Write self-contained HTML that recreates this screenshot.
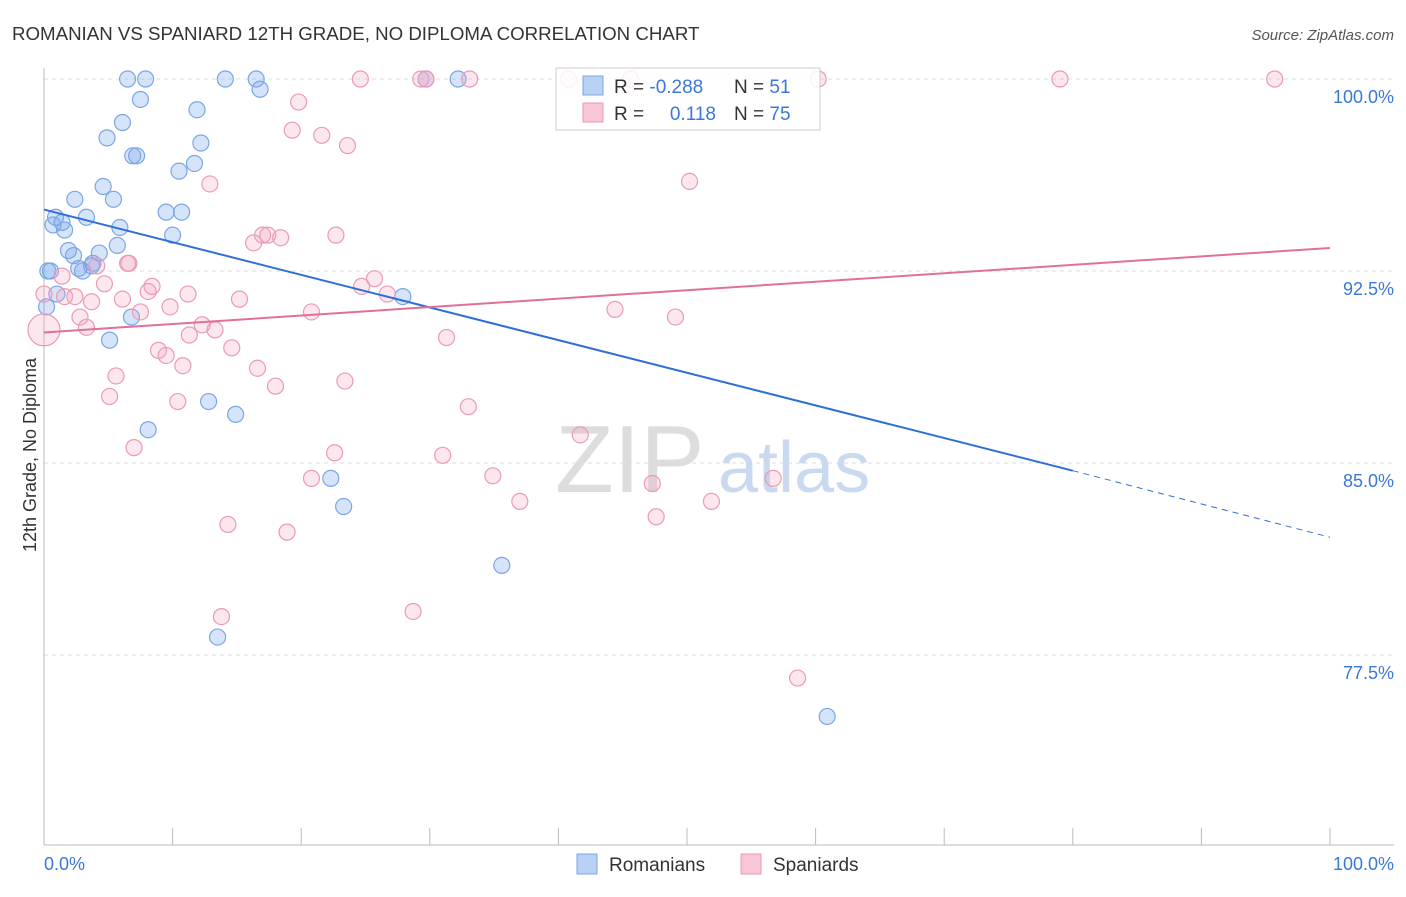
<!DOCTYPE html>
<html><head><meta charset="utf-8"><style>
body{margin:0;background:#fff;font-family:"Liberation Sans",sans-serif}
svg text{font-family:"Liberation Sans",sans-serif}
</style></head><body>
<svg width="1406" height="892" viewBox="0 0 1406 892">
<text x="12" y="40" font-size="18.7" fill="#333">ROMANIAN VS SPANIARD 12TH GRADE, NO DIPLOMA CORRELATION CHART</text>
<text x="1394" y="40" font-size="15" fill="#555" text-anchor="end" font-style="italic">Source: ZipAtlas.com</text>
<text x="36" y="455" font-size="18" fill="#333" text-anchor="middle" transform="rotate(-90 36 455)">12th Grade, No Diploma</text>
<g id="grid"></g>
<g id="watermark">
<text x="555" y="492" font-size="96" fill="#ddd" font-family="Liberation Serif">ZIP</text>
<text x="718" y="492" font-size="72" fill="#c9daf0">atlas</text>
</g>
<g id="pts"></g>
<g id="lines"></g>
<g>
<rect x="556" y="68" width="264" height="62" fill="#fff" fill-opacity="0.85" stroke="#ccc"/>
<rect x="583" y="76" width="20" height="19" fill="#b8d0f3" stroke="#7aa6e6"/>
<rect x="583" y="103" width="20" height="19" fill="#f8c6d6" stroke="#ea9ab6"/>
<text x="614" y="93" font-size="19" fill="#333">R = <tspan fill="#3a78d8">-0.288</tspan></text>
<text x="734" y="93" font-size="19" fill="#333">N = <tspan fill="#3a78d8"> 51</tspan></text>
<text x="614" y="120" font-size="19" fill="#333">R = </text>
<text x="716" y="120" font-size="19" fill="#3a78d8" text-anchor="end">0.118</text>
<text x="734" y="120" font-size="19" fill="#333">N = <tspan fill="#3a78d8">75</tspan></text>
</g>
<g>
<rect x="577" y="854" width="20" height="20" fill="#b8d0f3" stroke="#7aa6e6"/>
<text x="609" y="871" font-size="19" fill="#333">Romanians</text>
<rect x="741" y="854" width="20" height="20" fill="#f8c6d6" stroke="#ea9ab6"/>
<text x="773" y="871" font-size="19" fill="#333">Spaniards</text>
</g>
</svg>
<script>
const yTicks=[100,92.5,85,77.5];
const yTickLabels=["100.0%","92.5%","85.0%","77.5%"];
const xTickLabels=["0.0%","100.0%"];
const blueX=[6.5,7.9,14.1,16.5,29.7,32.2,7.5,16.8,11.9,6.1,4.9,12.2,6.9,7.2,11.7,10.5,4.6,2.4,5.4,9.5,10.7,3.3,0.9,1.4,0.7,1.6,5.9,10.0,5.7,1.9,4.3,2.3,3.8,3.7,2.7,3.0,0.5,6.8,5.1,27.9,12.8,14.9,8.1,22.3,23.3,35.6,13.5,60.9,0.2,0.3,1.0];
const blueY=[100,100,100,100,100,100,99.2,99.6,98.8,98.3,97.7,97.5,97.0,97.0,96.7,96.4,95.8,95.3,95.3,94.8,94.8,94.6,94.6,94.4,94.3,94.1,94.2,93.9,93.5,93.3,93.2,93.1,92.8,92.7,92.6,92.5,92.5,90.7,89.8,91.5,87.4,86.9,86.3,84.4,83.3,81.0,78.2,75.1,91.1,92.5,91.6];
const pinkX=[24.6,29.3,29.7,33.1,40.8,45.6,60.2,79.0,95.7,19.8,19.3,21.6,23.6,12.9,50.2,16.3,17.0,17.4,18.4,22.7,6.6,4.1,1.4,25.7,4.7,24.7,8.4,8.1,26.7,1.6,2.4,3.7,11.2,6.1,15.2,9.8,7.5,20.8,44.4,49.1,2.8,3.3,12.3,13.3,11.3,31.3,14.6,8.9,9.5,10.8,16.6,5.6,23.4,18.0,5.1,10.4,33.0,41.7,7.0,22.6,31.0,20.8,34.9,47.3,56.7,37.0,51.9,47.6,14.3,18.9,13.8,28.7,58.6,0.0,0.0,6.5];
const pinkY=[100,100,100,100,100,100,100,100,100,99.1,98.0,97.8,97.4,95.9,96.0,93.6,93.9,93.9,93.8,93.9,92.8,92.7,92.3,92.2,92.0,91.9,91.9,91.7,91.6,91.5,91.5,91.3,91.6,91.4,91.4,91.1,90.9,90.9,91.0,90.7,90.7,90.3,90.4,90.2,90.0,89.9,89.5,89.4,89.2,88.8,88.7,88.4,88.2,88.0,87.6,87.4,87.2,86.1,85.6,85.4,85.3,84.4,84.5,84.2,84.4,83.5,83.5,82.9,82.6,82.3,79.0,79.2,76.6,90.2,91.6,92.8];
const blueFit=[[0,94.9],[80,84.7]],blueDash=[[80,84.7],[100,82.1]];
const pinkFit=[[0,90.1],[100,93.4]];
const X0=44,X1=1330,Y100=79,PX=192/7.5;
const sx=v=>X0+(X1-X0)*v/100, sy=v=>Y100+(100-v)*PX;
const NS="http://www.w3.org/2000/svg";
function mk(t,a,p){const e=document.createElementNS(NS,t);for(const k in a)e.setAttribute(k,a[k]);p.appendChild(e);return e;}
const grid=document.getElementById('grid');
yTicks.forEach((v,i)=>{
 const l=mk('line',{x1:44,x2:1394,y1:sy(v),y2:sy(v),stroke:'#ddd','stroke-dasharray':'4,4'},grid);
 
 
 const t=mk('text',{x:1394,y:sy(v)+24,'font-size':18,fill:'#3a78d8','text-anchor':'end'},grid);
 t.textContent=yTickLabels[i];
 
 
});
const ax=mk('line',{x1:44,x2:44,y1:68,y2:845,stroke:'#bbb'},grid);


const bx=mk('line',{x1:44,x2:1394,y1:845,y2:845,stroke:'#bbb'},grid);


for(let i=0;i<=10;i++){const t=mk('line',{x1:sx(i*10),x2:sx(i*10),y1:828,y2:845,stroke:'#bbb'},grid);
 
 }
[[0,'start'],[100,'end']].forEach((d,i)=>{const t=mk('text',{x:i?1394:44,y:870,'font-size':18,fill:'#3a78d8','text-anchor':d[1]},grid);t.textContent=xTickLabels[i];
 
 });
const pts=document.getElementById('pts');
blueX.forEach((x,i)=>{const c=mk('circle',{cx:sx(x),cy:sy(blueY[i]),r:8,fill:'rgba(120,165,235,0.3)',stroke:'#7aa6e6','stroke-width':1.2},pts);
 
 });
pinkX.forEach((x,i)=>{const c=mk('circle',{cx:sx(x),cy:sy(pinkY[i]),r:(i==73?16:8),fill:'rgba(245,160,190,0.25)',stroke:'#ea9ab6','stroke-width':1.2},pts);
 
 });
const ln=document.getElementById('lines');
const b=mk('line',{x1:sx(blueFit[0][0]),y1:sy(blueFit[0][1]),x2:sx(blueFit[1][0]),y2:sy(blueFit[1][1]),stroke:'#2f6fd6','stroke-width':2},ln);


const bd=mk('line',{x1:sx(blueDash[0][0]),y1:sy(blueDash[0][1]),x2:sx(blueDash[1][0]),y2:sy(blueDash[1][1]),stroke:'#2f6fd6','stroke-width':1,'stroke-dasharray':'6,5'},ln);


const p=mk('line',{x1:sx(pinkFit[0][0]),y1:sy(pinkFit[0][1]),x2:sx(pinkFit[1][0]),y2:sy(pinkFit[1][1]),stroke:'#e0709a','stroke-width':2},ln);


</script>
</body></html>
